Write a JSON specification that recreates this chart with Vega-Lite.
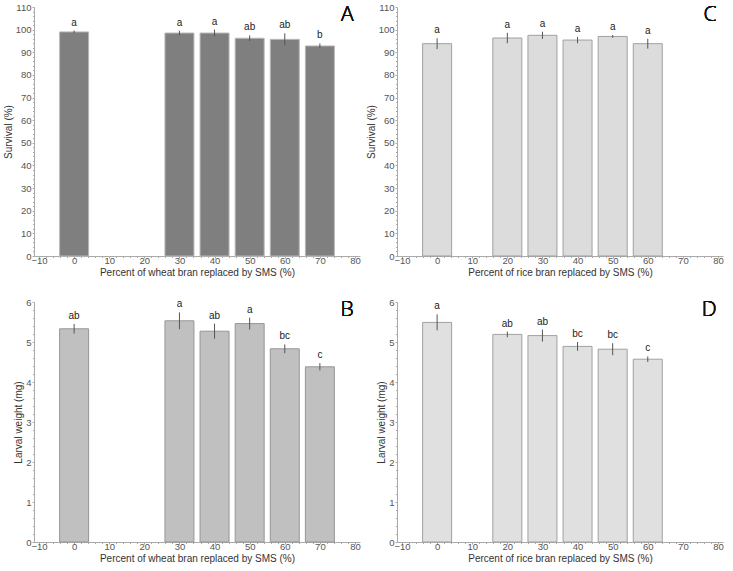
{
  "$schema": "https://vega.github.io/schema/vega-lite/v6.json",
  "background": "white",
  "padding": {"left": 3, "top": 2, "right": 5, "bottom": 2},
  "columns": 2,
  "spacing": {"row": 19, "column": 5},
  "config": {
    "view": {"stroke": null},
    "font": "Liberation Sans",
    "axis": {"grid": false, "labelFont": "Liberation Sans", "labelFontSize": 9.5, "labelColor": "#555", "labelOverlap": false, "labelPadding": 1, "titleFont": "Liberation Sans", "titleFontSize": 10, "titleFontWeight": "normal", "titleColor": "#333", "domainColor": "#aaa", "tickColor": "#aaa", "tickSize": 2},
    "axisBottom": {"labelPadding": -3, "titlePadding": 3},
    "text": {"font": "Liberation Sans"}
  },
  "datasets": {
    "A": [
      {"pct": 0, "mean": 99.0, "lo": 98.4, "hi": 99.6, "letter": "a"},
      {"pct": 30, "mean": 98.5, "lo": 97.5, "hi": 99.5, "letter": "a"},
      {"pct": 40, "mean": 98.5, "lo": 97.0, "hi": 100.0, "letter": "a"},
      {"pct": 50, "mean": 96.2, "lo": 94.9, "hi": 97.5, "letter": "ab"},
      {"pct": 60, "mean": 95.7, "lo": 93.0, "hi": 98.4, "letter": "ab"},
      {"pct": 70, "mean": 92.8, "lo": 91.7, "hi": 93.9, "letter": "b"}
    ],
    "C": [
      {"pct": 0, "mean": 93.8, "lo": 91.4, "hi": 96.2, "letter": "a"},
      {"pct": 20, "mean": 96.3, "lo": 94.0, "hi": 98.6, "letter": "a"},
      {"pct": 30, "mean": 97.5, "lo": 95.9, "hi": 99.1, "letter": "a"},
      {"pct": 40, "mean": 95.4, "lo": 94.0, "hi": 96.8, "letter": "a"},
      {"pct": 50, "mean": 97.0, "lo": 96.4, "hi": 97.6, "letter": "a"},
      {"pct": 60, "mean": 93.8, "lo": 91.6, "hi": 96.0, "letter": "a"}
    ],
    "B": [
      {"pct": 0, "mean": 5.33, "lo": 5.21, "hi": 5.45, "letter": "ab"},
      {"pct": 30, "mean": 5.53, "lo": 5.32, "hi": 5.74, "letter": "a"},
      {"pct": 40, "mean": 5.27, "lo": 5.08, "hi": 5.46, "letter": "ab"},
      {"pct": 50, "mean": 5.46, "lo": 5.31, "hi": 5.61, "letter": "a"},
      {"pct": 60, "mean": 4.83, "lo": 4.72, "hi": 4.94, "letter": "bc"},
      {"pct": 70, "mean": 4.38, "lo": 4.29, "hi": 4.47, "letter": "c"}
    ],
    "D": [
      {"pct": 0, "mean": 5.49, "lo": 5.29, "hi": 5.69, "letter": "a"},
      {"pct": 20, "mean": 5.19, "lo": 5.12, "hi": 5.26, "letter": "ab"},
      {"pct": 30, "mean": 5.16, "lo": 5.01, "hi": 5.31, "letter": "ab"},
      {"pct": 40, "mean": 4.89, "lo": 4.78, "hi": 5.0, "letter": "bc"},
      {"pct": 50, "mean": 4.82, "lo": 4.67, "hi": 4.97, "letter": "bc"},
      {"pct": 60, "mean": 4.57, "lo": 4.5, "hi": 4.64, "letter": "c"}
    ]
  },
  "concat": [
    {
      "width": 326, "height": 249,
      "data": {"name": "A"},
      "resolve": {"axis": {"x": "independent", "y": "independent"}},
      "layer": [
        {"mark": {"type": "bar", "orient": "vertical", "size": 29, "fill": "#7f7f7f", "stroke": "#b8b8b8", "strokeWidth": 1},
         "encoding": {
           "x": {"field": "pct", "type": "quantitative", "scale": {"domain": [-10, 80], "nice": false}, "axis": {"orient": "bottom", "values": [-10,0,10,20,30,40,50,60,70,80], "title": "Percent of wheat bran replaced by SMS (%)"}},
           "y": {"field": "mean", "type": "quantitative", "scale": {"domain": [0, 110], "nice": false}, "axis": {"orient": "left", "values": [0,10,20,30,40,50,60,70,80,90,100,110], "title": "Survival (%)", "titlePadding": 2}}
         }},
        {"mark": {"type": "rule", "color": "#555", "strokeWidth": 1},
         "encoding": {
           "x": {"field": "pct", "type": "quantitative", "axis": {"orient": "bottom", "values": [-8,-6,-4,-2,2,4,6,8,12,14,16,18,22,24,26,28,32,34,36,38,42,44,46,48,52,54,56,58,62,64,66,68,72,74,76,78], "labels": false, "domain": false, "tickSize": 1.5, "title": null}},
           "y": {"field": "lo", "type": "quantitative", "axis": {"orient": "left", "values": [2,4,6,8,12,14,16,18,22,24,26,28,32,34,36,38,42,44,46,48,52,54,56,58,62,64,66,68,72,74,76,78,82,84,86,88,92,94,96,98,102,104,106,108], "labels": false, "domain": false, "tickSize": 1.5, "title": null}},
           "y2": {"field": "hi"}}},
        {"mark": {"type": "text", "baseline": "alphabetic", "dy": -5, "fontSize": 10, "color": "#222"},
         "encoding": {"x": {"field": "pct", "type": "quantitative", "axis": null}, "y": {"field": "hi", "type": "quantitative", "axis": null}, "text": {"field": "letter"}}},
        {"mark": {"type": "text", "text": "A", "font": "Open Sans", "fontSize": 21, "fontWeight": 300, "color": "#111", "align": "right", "baseline": "middle"},
         "encoding": {"x": {"datum": 79.6, "axis": null}, "y": {"datum": 106.5, "axis": null}}}
      ]
    },
    {
      "width": 326, "height": 249,
      "data": {"name": "C"},
      "resolve": {"axis": {"x": "independent", "y": "independent"}},
      "layer": [
        {"mark": {"type": "bar", "orient": "vertical", "size": 29, "fill": "#dcdcdc", "stroke": "#a0a0a0", "strokeWidth": 1},
         "encoding": {
           "x": {"field": "pct", "type": "quantitative", "scale": {"domain": [-10, 80], "nice": false}, "axis": {"orient": "bottom", "values": [-10,0,10,20,30,40,50,60,70,80], "title": "Percent of rice bran replaced by SMS (%)"}},
           "y": {"field": "mean", "type": "quantitative", "scale": {"domain": [0, 110], "nice": false}, "axis": {"orient": "left", "values": [0,10,20,30,40,50,60,70,80,90,100,110], "title": "Survival (%)", "titlePadding": 2}}
         }},
        {"mark": {"type": "rule", "color": "#555", "strokeWidth": 1},
         "encoding": {
           "x": {"field": "pct", "type": "quantitative", "axis": {"orient": "bottom", "values": [-8,-6,-4,-2,2,4,6,8,12,14,16,18,22,24,26,28,32,34,36,38,42,44,46,48,52,54,56,58,62,64,66,68,72,74,76,78], "labels": false, "domain": false, "tickSize": 1.5, "title": null}},
           "y": {"field": "lo", "type": "quantitative", "axis": {"orient": "left", "values": [2,4,6,8,12,14,16,18,22,24,26,28,32,34,36,38,42,44,46,48,52,54,56,58,62,64,66,68,72,74,76,78,82,84,86,88,92,94,96,98,102,104,106,108], "labels": false, "domain": false, "tickSize": 1.5, "title": null}},
           "y2": {"field": "hi"}}},
        {"mark": {"type": "text", "baseline": "alphabetic", "dy": -5, "fontSize": 10, "color": "#222"},
         "encoding": {"x": {"field": "pct", "type": "quantitative", "axis": null}, "y": {"field": "hi", "type": "quantitative", "axis": null}, "text": {"field": "letter"}}},
        {"mark": {"type": "text", "text": "C", "font": "Open Sans", "fontSize": 21, "fontWeight": 300, "color": "#111", "align": "right", "baseline": "middle"},
         "encoding": {"x": {"datum": 79.6, "axis": null}, "y": {"datum": 106.5, "axis": null}}}
      ]
    },
    {
      "width": 326, "height": 240,
      "data": {"name": "B"},
      "resolve": {"axis": {"x": "independent", "y": "independent"}},
      "layer": [
        {"mark": {"type": "bar", "orient": "vertical", "size": 29, "fill": "#c0c0c0", "stroke": "#969696", "strokeWidth": 1},
         "encoding": {
           "x": {"field": "pct", "type": "quantitative", "scale": {"domain": [-10, 80], "nice": false}, "axis": {"orient": "bottom", "values": [-10,0,10,20,30,40,50,60,70,80], "title": "Percent of wheat bran replaced by SMS (%)"}},
           "y": {"field": "mean", "type": "quantitative", "scale": {"domain": [0, 6], "nice": false}, "axis": {"orient": "left", "values": [0,1,2,3,4,5,6], "title": "Larval weight (mg)", "titlePadding": 2}}
         }},
        {"mark": {"type": "rule", "color": "#555", "strokeWidth": 1},
         "encoding": {
           "x": {"field": "pct", "type": "quantitative", "axis": {"orient": "bottom", "values": [-8,-6,-4,-2,2,4,6,8,12,14,16,18,22,24,26,28,32,34,36,38,42,44,46,48,52,54,56,58,62,64,66,68,72,74,76,78], "labels": false, "domain": false, "tickSize": 1.5, "title": null}},
           "y": {"field": "lo", "type": "quantitative", "axis": {"orient": "left", "values": [0.2,0.4,0.6,0.8,1.2,1.4,1.6,1.8,2.2,2.4,2.6,2.8,3.2,3.4,3.6,3.8,4.2,4.4,4.6,4.8,5.2,5.4,5.6,5.8], "labels": false, "domain": false, "tickSize": 1.5, "title": null}},
           "y2": {"field": "hi"}}},
        {"mark": {"type": "text", "baseline": "alphabetic", "dy": -5, "fontSize": 10, "color": "#222"},
         "encoding": {"x": {"field": "pct", "type": "quantitative", "axis": null}, "y": {"field": "hi", "type": "quantitative", "axis": null}, "text": {"field": "letter"}}},
        {"mark": {"type": "text", "text": "B", "font": "Open Sans", "fontSize": 21, "fontWeight": 300, "color": "#111", "align": "right", "baseline": "middle"},
         "encoding": {"x": {"datum": 79.6, "axis": null}, "y": {"datum": 5.8, "axis": null}}}
      ]
    },
    {
      "width": 326, "height": 240,
      "data": {"name": "D"},
      "resolve": {"axis": {"x": "independent", "y": "independent"}},
      "layer": [
        {"mark": {"type": "bar", "orient": "vertical", "size": 29, "fill": "#e0e0e0", "stroke": "#a0a0a0", "strokeWidth": 1},
         "encoding": {
           "x": {"field": "pct", "type": "quantitative", "scale": {"domain": [-10, 80], "nice": false}, "axis": {"orient": "bottom", "values": [-10,0,10,20,30,40,50,60,70,80], "title": "Percent of rice bran replaced by SMS (%)"}},
           "y": {"field": "mean", "type": "quantitative", "scale": {"domain": [0, 6], "nice": false}, "axis": {"orient": "left", "values": [0,1,2,3,4,5,6], "title": "Larval weight (mg)", "titlePadding": 2}}
         }},
        {"mark": {"type": "rule", "color": "#555", "strokeWidth": 1},
         "encoding": {
           "x": {"field": "pct", "type": "quantitative", "axis": {"orient": "bottom", "values": [-8,-6,-4,-2,2,4,6,8,12,14,16,18,22,24,26,28,32,34,36,38,42,44,46,48,52,54,56,58,62,64,66,68,72,74,76,78], "labels": false, "domain": false, "tickSize": 1.5, "title": null}},
           "y": {"field": "lo", "type": "quantitative", "axis": {"orient": "left", "values": [0.2,0.4,0.6,0.8,1.2,1.4,1.6,1.8,2.2,2.4,2.6,2.8,3.2,3.4,3.6,3.8,4.2,4.4,4.6,4.8,5.2,5.4,5.6,5.8], "labels": false, "domain": false, "tickSize": 1.5, "title": null}},
           "y2": {"field": "hi"}}},
        {"mark": {"type": "text", "baseline": "alphabetic", "dy": -5, "fontSize": 10, "color": "#222"},
         "encoding": {"x": {"field": "pct", "type": "quantitative", "axis": null}, "y": {"field": "hi", "type": "quantitative", "axis": null}, "text": {"field": "letter"}}},
        {"mark": {"type": "text", "text": "D", "font": "Open Sans", "fontSize": 21, "fontWeight": 300, "color": "#111", "align": "right", "baseline": "middle"},
         "encoding": {"x": {"datum": 79.6, "axis": null}, "y": {"datum": 5.8, "axis": null}}}
      ]
    }
  ]
}
